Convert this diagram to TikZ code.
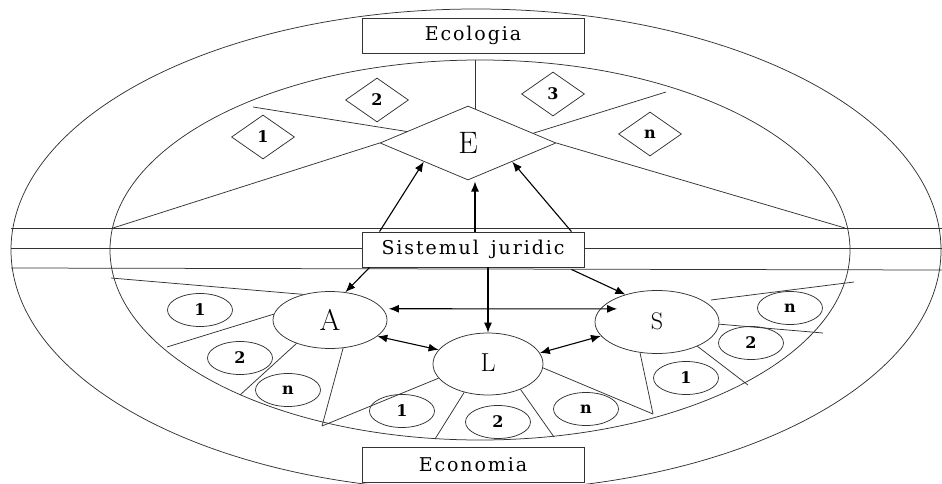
\documentclass[tikz,border=0pt]{standalone}
\usepackage{fontspec}
\usetikzlibrary{shapes.geometric,arrows.meta,calc}
\newfontfamily\lblfont[LetterSpace=10]{DejaVu Serif}
\newfontfamily\numfont{DejaVu Serif}
\begin{document}
\begin{tikzpicture}[x=1pt,y=-1pt,
  thinline/.style={draw=black!80,line width=0.75pt},
  box/.style={draw=black!80,line width=0.9pt,fill=white,minimum width=222pt,minimum height=35pt,inner sep=0pt,font=\lblfont\fontsize{19}{19}\selectfont},
  bigdia/.style={diamond,draw=black!80,line width=0.75pt,fill=white,minimum width=176pt,minimum height=74pt,inner sep=0pt},
  smalldia/.style={diamond,draw=black!80,line width=0.75pt,fill=white,minimum width=63pt,minimum height=44pt,inner sep=0pt,font=\numfont\bfseries\fontsize{16}{16}\selectfont},
  bigell/.style={ellipse,draw=black!80,line width=0.75pt,fill=white,inner sep=0pt},
  smallell/.style={ellipse,draw=black!80,line width=0.75pt,fill=white,minimum width=65pt,minimum height=33pt,inner sep=0pt,font=\numfont\bfseries\fontsize{16}{16}\selectfont},
  arr/.style={line width=1.1pt,-{Latex[length=10pt,width=8pt]}},
  darr/.style={line width=1.1pt,{Latex[length=10pt,width=8pt]}-{Latex[length=10pt,width=8pt]}}
]
\useasboundingbox (0,0) rectangle (942,484);
% rings
\draw[thinline] (476,250) ellipse [x radius=465pt, y radius=241pt];
\draw[thinline] (480,250) ellipse [x radius=370pt, y radius=190pt];
% band
\coordinate (b1l) at (11,228); \coordinate (b1r) at (942,228);
\coordinate (b2l) at (11,248); \coordinate (b2r) at (942,248);
\coordinate (b3l) at (11,268); \coordinate (b3r) at (942,270);
\draw[thinline] (b1l) -- (b1r);
\draw[thinline] (b2l) -- (b2r);
\draw[thinline] (b3l) -- (b3r);
% boxes
\node[box] (eco) at (473,35.5) {Ecologia};
\node[box] (sj) at (473,249.5) {Sistemul\hspace{4pt} juridic};
\node[box] (econ) at (473,464.5) {Economia};
% E diamond
\node[bigdia] (E) at (468,143) {\raisebox{-3pt}{\fontsize{31}{31}\selectfont E}};
\node[smalldia] (d1) at (263,137) {1};
\node[smalldia] (d2) at (377,100) {2};
\node[smalldia] (d3) at (553,94) {3};
\node[smalldia] (dn) at (650,134) {n};
% big ellipses
\node[bigell,minimum width=114pt,minimum height=57pt] (A) at (330,320) {\fontsize{30}{30}\selectfont A};
\node[bigell,minimum width=110pt,minimum height=62pt] (L) at (488,364) {\raisebox{2pt}{\fontsize{26}{26}\selectfont L}};
\node[bigell,minimum width=124pt,minimum height=63pt] (S) at (657,322) {\raisebox{1pt}{\fontsize{24}{24}\selectfont S}};
% small ellipses
\node[smallell] (a1) at (200,310) {1};
\node[smallell] (a2) at (240,358) {2};
\node[smallell] (an) at (288,390) {n};
\node[smallell] (l1) at (402,411) {1};
\node[smallell] (l2) at (498,422) {2};
\node[smallell] (ln) at (586,409) {n};
\node[smallell] (s1) at (686,378) {1};
\node[smallell] (s2) at (751,343) {2};
\node[smallell] (sn) at (790,308) {n};
% sector lines of E
\coordinate (e1) at (113,228);
\coordinate (e2) at (845,228);
\coordinate (e3) at (253,107); \coordinate (e3b) at (408,131.7);
\coordinate (e4) at (666,92);  \coordinate (e4b) at (533,133.3);
\coordinate (e5) at (475,60);  \coordinate (e5b) at (475,108.9);
\draw[thinline] (E.west) -- (e1);
\draw[thinline] (E.east) -- (e2);
\draw[thinline] (e3) -- (e3b);
\draw[thinline] (e4) -- (e4b);
\draw[thinline] (e5) -- (e5b);
% sector lines of A
\coordinate (pa1) at (111,278);
\coordinate (pa2) at (167,347);
\coordinate (pa3) at (240,395);
\coordinate (pa4) at (322,426);
\draw[thinline] (A.136) -- (pa1);
\draw[thinline] (A.174) -- (pa2);
\draw[thinline] (A.215) -- (pa3);
\draw[thinline] (A.-65) -- (pa4);
\draw[thinline] (pa4) -- (L.196);
% sector lines of L
\coordinate (pl1) at (435,439);
\coordinate (pl2) at (554,437);
\coordinate (pl3) at (653,414);
\draw[thinline] (L.230) -- (pl1);
\draw[thinline] (L.-38) -- (pl2);
\draw[thinline] (L.-4) -- (pl3);
\draw[thinline] (S.241) -- (pl3);
% sector lines of S
\coordinate (ps1) at (748,385);
\coordinate (ps2) at (823,333);
\coordinate (ps3a) at (711,300);
\coordinate (ps3) at (854,282);
\draw[thinline] (S.-31) -- (ps1);
\draw[thinline] (S.-2) -- (ps2);
\draw[thinline] (ps3a) -- (ps3);
% arrows to E
\draw[arr] ($(sj.north west)+(18,0)$) -- (E.south west);
\draw[arr] ($(sj.north)+(2,0)$) -- ++(0,-50);
\draw[arr] ($(sj.north east)+(-13,0)$) -- (E.south east);
% arrows down
\draw[arr] ($(sj.south west)+(8,0)$) -- (A.61);
\draw[arr] ($(sj.south)+(15,0)$) -- (L.north);
\draw[arr] ($(sj.south east)+(-13,2)$) -- (S.139);
% mutual arrows
\draw[darr] ($(A.12)+(6,0)$) -- ($(S.167)+(17,0)$);
\draw[darr] (A.-19) -- (L.164);
\draw[darr] (L.12) -- (S.-166);
\end{tikzpicture}
\end{document}
